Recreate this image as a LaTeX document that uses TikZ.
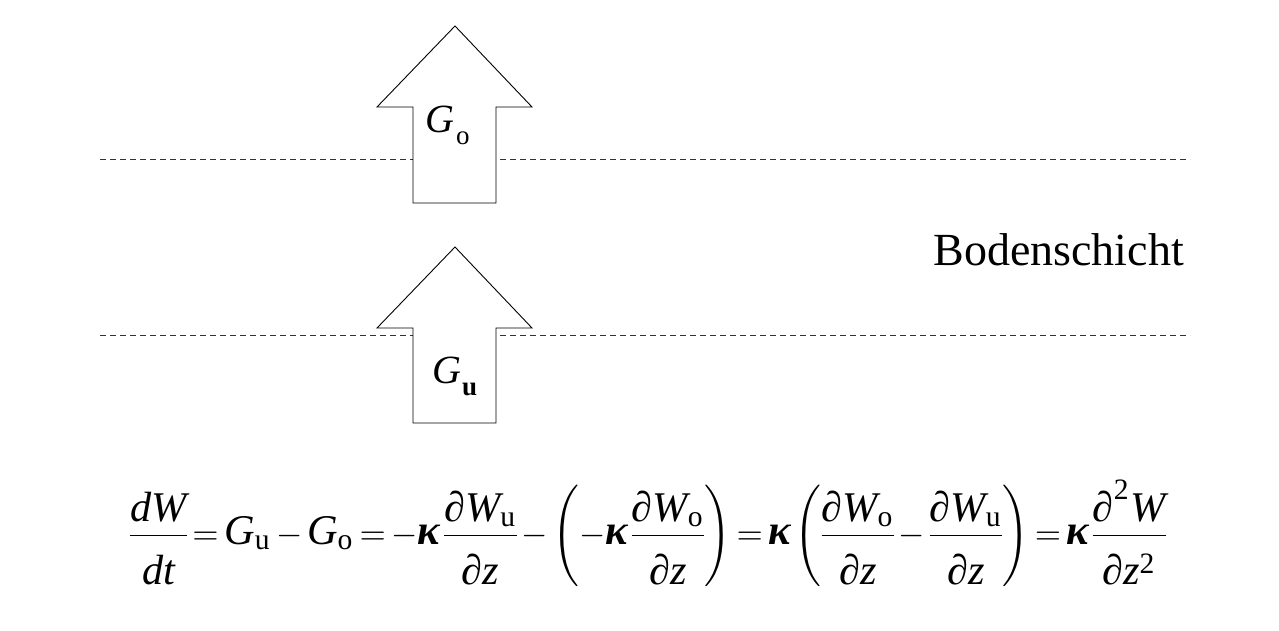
\documentclass[tikz,border=0pt]{standalone}
\usepackage{fontspec}
\setmainfont{Liberation Serif}
\usepackage{amsmath}
\usepackage{graphicx}
\newcommand\gs{1.25}
\newcommand\mi[1]{\text{\scalebox{\gs}{\itshape #1}}}
\newcommand\mr[1]{\text{\scalebox{\gs}{\upshape #1}}}
\newcommand\pd{\text{\scalebox{\gs}{\upshape ∂}}}
\newcommand\kap{\text{\scalebox{\gs}{\bfseries\itshape κ}}}
\newcommand\fr[2]{\frac{#1}{\rule{0pt}{1.3em}#2}}
\tikzset{
  fluxarrow/.style={draw=black, fill=white, line width=0.9pt, line join=miter},
  layerline/.style={draw=black!80, line width=0.8pt, dash pattern=on 6pt off 4pt},
}
\begin{document}
\begin{tikzpicture}[x=1pt,y=-1pt]
\useasboundingbox (0,0) rectangle (1279,631);
% dashed layer boundaries
\coordinate (t1) at (100,159); \coordinate (t2) at (1190,159);
\coordinate (b1) at (100,335); \coordinate (b2) at (1190,335);
\draw[layerline] (t1) -- (t2);
\draw[layerline] (b1) -- (b2);
% upper arrow
\draw[fluxarrow] (455,26) -- (532,107) -- (496,107) -- (496,203) -- (413,203) -- (413,107) -- (377,107) -- cycle;
% lower arrow
\draw[fluxarrow] (455,247) -- (532,328) -- (496,328) -- (496,423) -- (413,423) -- (413,328) -- (377,328) -- cycle;
% labels
\node[anchor=base west, inner sep=0] (go) at (425,133)
  {\fontsize{40}{40}\selectfont\textit{G}\kern2pt\raisebox{-12pt}{\fontsize{27}{27}\selectfont o}};
\node[anchor=base west, inner sep=0] (gu) at (432,383)
  {\fontsize{40}{40}\selectfont\textit{G}\kern1pt\raisebox{-12pt}{\fontsize{27}{27}\selectfont\bfseries u}};
\node[anchor=base east, inner sep=0] (bs) at (1184,265)
  {\fontsize{46}{46}\selectfont Bodenschicht};
% equation
\node[anchor=center, inner sep=0] (eq) at (648,533) {\resizebox{1035pt}{!}{%
 \thickmuskip=3mu \medmuskip=2.5mu \thinmuskip=2mu \nulldelimiterspace=0pt
 $\displaystyle
 \fr{\mi{dW}}{\mi{dt}} = \mi{G}_{\mr{u}} - \mi{G}_{\mr{o}}
 = -\kap\,\fr{\pd\mi{W}_{\mr{u}}}{\pd\mi{z}}
 - \left(-\kap\,\fr{\pd\mi{W}_{\mr{o}}}{\pd\mi{z}}\right)
 = \kap\left(\fr{\pd\mi{W}_{\mr{o}}}{\pd\mi{z}} - \fr{\pd\mi{W}_{\mr{u}}}{\pd\mi{z}}\right)
 = \kap\,\fr{\pd^{\mr{2}}\mi{W}}{\pd\mi{z}^{\mr{2}}}$}};
\end{tikzpicture}
\end{document}
